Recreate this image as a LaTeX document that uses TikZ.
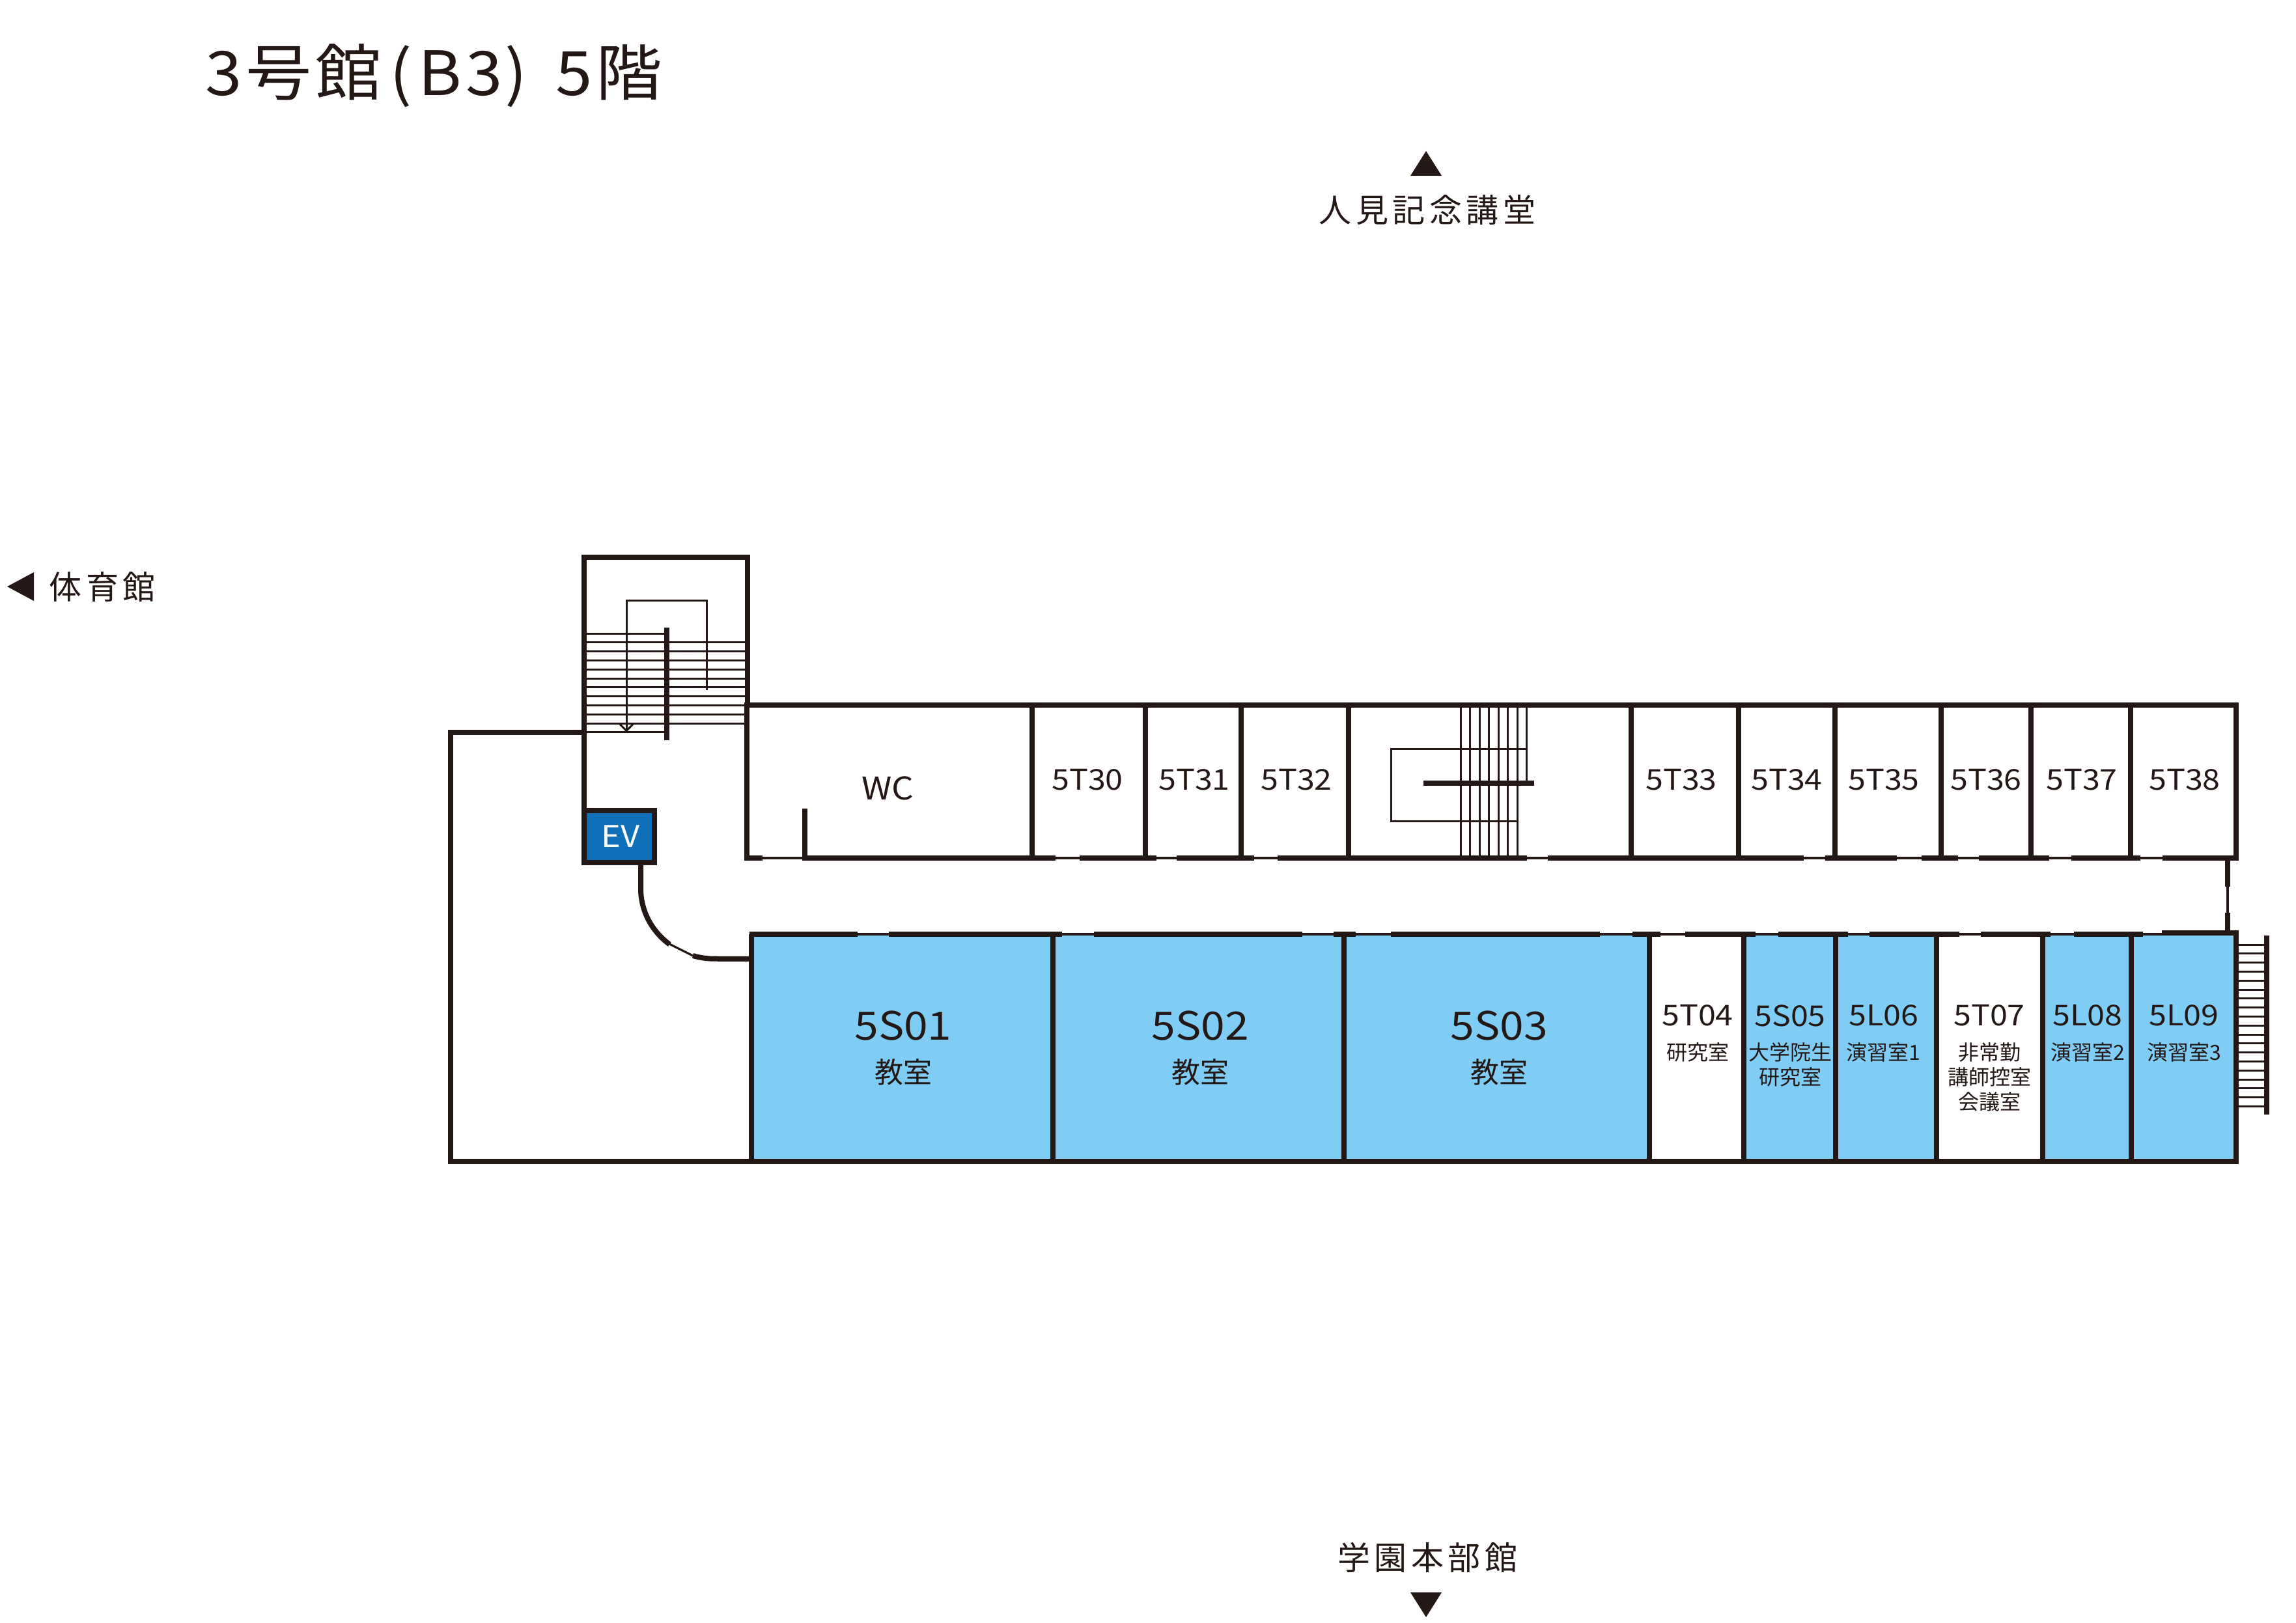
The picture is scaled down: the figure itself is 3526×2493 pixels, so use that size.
\documentclass[tikz,border=0pt]{standalone}
\usepackage{fontspec}
\setmainfont{Noto Sans CJK JP}
\newfontfamily\titlefont[FakeStretch=1.08,LetterSpace=6]{Noto Sans CJK JP}
\newfontfamily\placefont[LetterSpace=13]{Noto Sans CJK JP}
\newfontfamily\roomfont[FakeStretch=1.1]{Noto Sans CJK JP}
\definecolor{ink}{HTML}{231815}
\definecolor{roomblue}{HTML}{7FCDF4}
\definecolor{evblue}{HTML}{0F6FB8}

\begin{document}
\begin{tikzpicture}[x=0.25pt,y=-0.25pt]
    \tikzstyle{wall}=[draw=ink,line width=2pt]
    \tikzstyle{thin wall}=[draw=ink,line width=0.8pt]
    \tikzstyle{tread}=[draw=ink,line width=0.75pt]
    \tikzstyle{room}=[inner sep=0pt,text=ink,font=\roomfont\fontsize{11}{11}\selectfont]
    \tikzstyle{bigroom}=[inner sep=0pt,text=ink,font=\roomfont\fontsize{15}{15}\selectfont]
    \tikzstyle{usage}=[inner sep=0pt,text=ink,align=center,font=\fontsize{8}{9.5}\selectfont]
    \tikzstyle{bigusage}=[inner sep=0pt,text=ink,font=\fontsize{11}{11}\selectfont]
    \tikzstyle{place}=[inner sep=0pt,text=ink,font=\placefont\fontsize{12.5}{12.5}\selectfont]
    \useasboundingbox (0,0) rectangle (3526,2493);

    % blue rooms
    \fill[roomblue] (1154,1435) rectangle (2533,1784);
    \fill[roomblue] (2678,1435) rectangle (2974,1784);
    \fill[roomblue] (3137,1435) rectangle (3434,1784);
    \fill[evblue] (897,1245) rectangle (1005,1325);

    % stair at the top
    \foreach \y in {973,986.8,...,1126} \draw[tread] (897,\y) -- (1024,\y);
    \foreach \y in {986.8,1000.6,...,1112} \draw[tread] (1024,\y) -- (1147,\y);
    \draw[tread] (962,1122) -- (962,922) -- (1085.5,922) -- (1085.5,1060);
    \draw[tread] (952,1112.5) -- (962,1122.5) -- (972,1112.5);
    \draw[wall] (1024,964) -- (1024,1137);

    % walls
    \draw[wall] (897,1245) -- (897,856) -- (1148,856) -- (1148,1083);
    \draw[wall] (897,1125) -- (692,1125) -- (692,1784) -- (3434,1784) -- (3434,1432);
    \draw[wall] (3434,1318) -- (3434,1083) -- (1146.5,1083) -- (1146.5,1318) -- (1171,1318);
    \draw[wall] (897,1245) rectangle (1005,1325);
    \draw[wall] (1235.5,1242) -- (1235.5,1318);
    \draw[wall] (984,1325) -- (984,1365) arc[start angle=180,end angle=127.6,x radius=113.5,y radius=108];
    \draw[thin wall] (1028,1450) -- (1064,1468);
    \draw[wall] (1064,1468) arc[start angle=107,end angle=90,x radius=113.5,y radius=108] -- (1154,1473);
    \draw[wall] (1154,1784) -- (1154,1435);

    % corridor walls, thick part with door gap
    \draw[thin wall] (1171,1318) -- (3437,1318);
    \foreach \a/\b in {1232/1621,1658/1776,1807/1926,1962/2345,2377/2770,2803/2913,2951/3007,3039/3147,3181/3287,3321/3438}
      \draw[wall] (\a,1318) -- (\b,1318);
    \draw[thin wall] (1151,1435) -- (3437,1435);
    \foreach \a/\b in {1151/1317,1365/1631,1680/2000,2048/2082,2136/2457,2507/2550,2588/2696,2731/2838,2871/3009,3042/3149,3185/3291}
      \draw[wall] (\a,1435) -- (\b,1435);
    \draw[wall] (3320,1432.5) -- (3438,1432.5);
    \draw[wall] (3421,1318) -- (3421,1362);
    \draw[thin wall] (3421,1362) -- (3421,1402);
    \draw[wall] (3421,1402) -- (3421,1432);

    % room dividers
    \foreach \x in {1585,1759,1906,2070.5,2505,2670,2818,2981,3119,3272}
      \draw[wall] (\x,1083) -- (\x,1318);
    \foreach \x in {1617,2064,2533,2678,2819,2974,3137,3273}
      \draw[wall] (\x,1435) -- (\x,1784);

    % stair in the middle
    \foreach \x in {2243,2257.5,...,2345} \draw[tread] (\x,1083) -- (\x,1203);
    \foreach \x in {2243,2257.5,...,2331} \draw[tread] (\x,1203) -- (\x,1318);
    \draw[tread] (2344,1150) -- (2136,1150) -- (2136,1261) -- (2330,1261);
    \draw[wall] (2186,1203) -- (2356,1203);

    % outside stair
    \foreach \y in {1451,1464.8,...,1700} \draw[tread] (3434,\y) -- (3481,\y);
    \draw[wall] (3481,1437) -- (3481,1712);

    % labels
    \node[room,font=\roomfont\fontsize{12}{12}\selectfont] (wc) at (1363,1211) {WC};
    \foreach \name/\x in {5T30/1670,5T31/1834,5T32/1991,5T33/2582,5T34/2744,5T35/2893,5T36/3050,5T37/3197,5T38/3355}
      \node[room] (r\name) at (\x,1198) {\name};
    \foreach \name/\x in {5S01/1387,5S02/1843,5S03/2302} {
      \node[bigroom] (r\name) at (\x,1576) {\name};
      \node[bigusage] (u\name) at (\x,1647) {教室};
    }
    \foreach \name/\x in {5T04/2607,5S05/2749,5L06/2893,5T07/3055,5L08/3206,5L09/3354}
      \node[room] (r\name) at (\x,1560) {\name};
    \node[usage,anchor=north] (u5T04) at (2607,1601) {研究室};
    \node[usage,anchor=north] (u5S05) at (2749,1601) {大学院生\\研究室};
    \node[usage,anchor=north] (u5L06) at (2892,1601) {演習室1};
    \node[usage,anchor=north] (u5T07) at (3055,1601) {非常勤\\講師控室\\会議室};
    \node[usage,anchor=north] (u5L08) at (3206,1601) {演習室2};
    \node[usage,anchor=north] (u5L09) at (3354,1601) {演習室3};
    \node[inner sep=0pt,text=white,font=\roomfont\fontsize{11.5}{11.5}\selectfont] (ev) at (953,1285) {EV};

    \node[inner sep=0pt,text=ink,anchor=west,font=\titlefont\fontsize{23.5}{23.5}\selectfont] (title) at (315,116) {3号館\kern3pt(\kern2.5pt B3\kern1pt)\kern11pt 5階};
    \node[place] (hitomi) at (2192,323) {人見記念講堂};
    \node[place] (gakuen) at (2192,2392) {学園本部館};
    \node[place,anchor=west] (gym) at (75,901) {体育館};
    \fill[ink] (2190,232) -- (2214,270) -- (2166,270) -- cycle;
    \fill[ink] (2190,2484) -- (2214,2446) -- (2166,2446) -- cycle;
    \fill[ink] (11,901) -- (52,879) -- (52,923) -- cycle;
\end{tikzpicture}
\end{document}
